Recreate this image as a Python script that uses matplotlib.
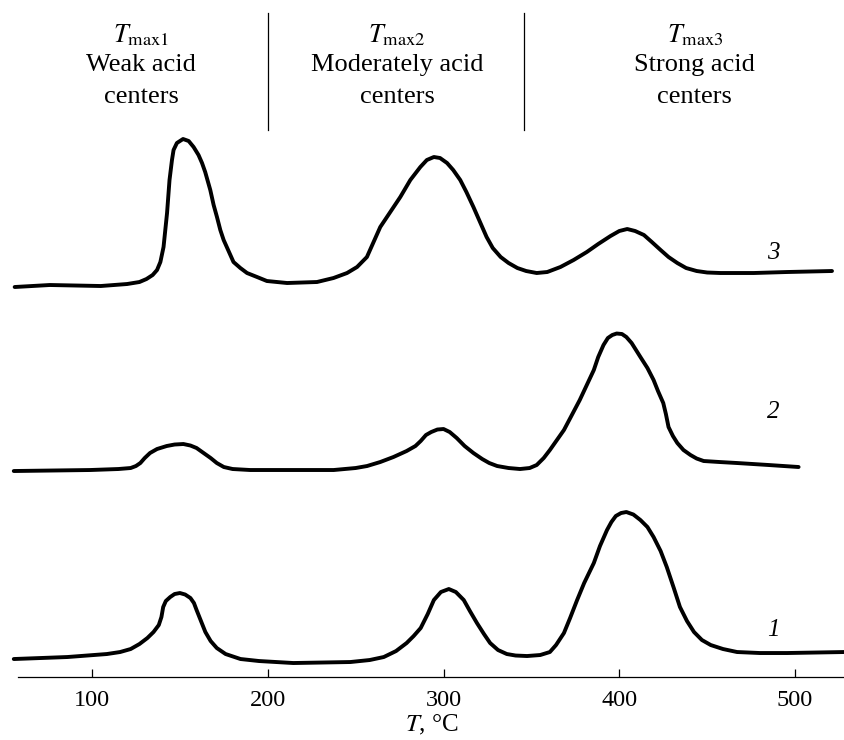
import matplotlib
matplotlib.use("Agg")
import matplotlib.pyplot as plt

plt.rcParams['font.family'] = ['Liberation Serif', 'DejaVu Serif']
plt.rcParams['mathtext.fontset'] = 'stix'

# TPD curves (signal in arbitrary units, already offset)
t3 = [56, 76, 105, 120, 127, 131, 134.5, 137, 138.9, 140.7, 142.7, 144.1, 145.5,
      146.4, 148.3, 151.8, 155, 157.8, 160.6, 162.6, 164.4, 167.3, 169.2, 171.1,
      173, 174.9, 177.7, 180.5, 184.4, 188.2, 193.9, 199.5, 211, 228, 237.4,
      245.1, 250.8, 256.4, 260.2, 264, 269.7, 275.4, 281.1, 286.8, 290.5, 294.5,
      298, 302, 305.5, 309.5, 313, 317, 321, 324.5, 328, 332.5, 337, 342, 347,
      353, 359, 366.5, 374, 381.5, 388, 395, 400, 404.5, 409, 414, 418.5, 423.5,
      428, 433, 438, 444, 450, 457.5, 476.5, 495.5, 521]
s3 = [39.0, 39.2, 39.1, 39.3, 39.5, 39.8, 40.2, 40.7, 41.5, 43.0, 46.4, 49.7, 51.7,
      52.7, 53.4, 53.8, 53.6, 53.0, 52.2, 51.4, 50.5, 48.7, 47.2, 46.0,
      44.7, 43.7, 42.6, 41.5, 40.9, 40.4, 40.0, 39.6, 39.4, 39.5, 39.9,
      40.4, 41.0, 42.0, 43.5, 45.0, 46.5, 48.0, 49.7, 51.0, 51.7, 52.0,
      51.9, 51.4, 50.7, 49.7, 48.5, 47.0, 45.4, 44.0, 42.9, 42.0, 41.4, 40.9, 40.6,
      40.4, 40.5, 41.0, 41.7, 42.5, 43.3, 44.1, 44.6, 44.8, 44.6, 44.2, 43.5, 42.7,
      42.0, 41.4, 40.9, 40.6, 40.45, 40.4, 40.4, 40.5, 40.6]

t2 = [55.5, 99, 115, 122, 125, 127.5, 130, 133, 137, 142.5, 147, 152, 156, 159.5,
      163.5, 167.5, 171, 175, 180, 190, 237.5, 250, 256.5, 264, 271.5, 279, 284,
      287, 290, 293, 296.5, 300, 303.5, 307.5, 312, 317, 322, 326, 330.5, 337,
      343.5, 349, 353, 357, 360.5, 364.5, 368.5, 373, 377.5, 381.5, 385.5, 388,
      391, 393.5, 396, 398.5, 401.5, 404, 407, 409.5, 412, 416, 419.5, 422, 425,
      426.5, 428, 430.5, 433, 436.5, 440.5, 444, 448, 457, 467, 485, 502]
s2 = [20.6, 20.7, 20.8, 20.9, 21.1, 21.4, 21.9, 22.4, 22.8, 23.1, 23.25, 23.3, 23.15, 22.9,
      22.4, 21.9, 21.4, 21.0, 20.8, 20.7, 20.7, 20.9, 21.1, 21.5, 22.0, 22.6, 23.1,
      23.6, 24.2, 24.5, 24.75, 24.8, 24.5, 23.9, 23.1, 22.4, 21.8, 21.4, 21.1, 20.9,
      20.8, 20.9, 21.2, 21.9, 22.7, 23.7, 24.7, 26.2, 27.7, 29.2, 30.7, 32.0,
      33.2, 33.9, 34.2, 34.35, 34.3, 34.0, 33.4, 32.7, 32.0, 30.9, 29.7, 28.6, 27.4,
      26.3, 25.0, 24.1, 23.4, 22.7, 22.2, 21.85, 21.6, 21.5, 21.4, 21.2, 21.0]

t1 = [55.5, 86, 108.5, 116, 122, 127, 131.5, 135, 138, 139.5, 140.5, 142, 144.5,
      147, 150, 153, 156, 158, 159.5, 162, 164.5, 167.5, 171, 176, 184.5, 195,
      214.5, 247, 258, 266, 273, 279, 283, 287, 291, 294.5, 298.5, 303, 307,
      311.5, 315, 319, 323, 326.5, 331, 336, 341, 347.5, 355, 360.5, 364, 368.5,
      372, 376, 380, 385.5, 389, 393, 395.5, 398, 401, 404, 408, 412, 416, 419.5,
      423.5, 427, 431, 434.5, 438.5, 442.5, 447, 452, 459, 467, 480, 495.5, 528]
s1 = [1.8, 2.0, 2.3, 2.5, 2.8, 3.3, 3.9, 4.5, 5.2, 6.0, 7.0, 7.6, 8.0,
      8.3, 8.4, 8.25, 7.9, 7.4, 6.7, 5.6, 4.5, 3.6, 2.9, 2.3, 1.8, 1.6,
      1.4, 1.5, 1.7, 2.0, 2.6, 3.4, 4.1, 4.9, 6.3, 7.7, 8.5, 8.8, 8.5,
      7.7, 6.6, 5.4, 4.3, 3.4, 2.7, 2.3, 2.15, 2.1, 2.2, 2.5, 3.2, 4.4,
      5.9, 7.7, 9.4, 11.4, 13.1, 14.7, 15.5, 16.1, 16.4, 16.5, 16.25, 15.7, 15.0, 14.0,
      12.6, 11.0, 8.9, 7.0, 5.6, 4.5, 3.7, 3.2, 2.8, 2.5, 2.4, 2.4, 2.5]

curves = [(t1, s1, '1', 4.7), (t2, s2, '2', 26.5), (t3, s3, '3', 42.4)]

xticks = [100, 200, 300, 400, 500]
borders = [200, 346]
header_x = [128, 273.5, 443]
header_tmax = [r'$T_{\mathrm{max1}}$', r'$T_{\mathrm{max2}}$', r'$T_{\mathrm{max3}}$']
header_l1 = ['Weak acid', 'Moderately acid', 'Strong acid']
header_l2 = ['centers', 'centers', 'centers']

fig = plt.figure(figsize=(8.45, 7.4), dpi=100)
ax = fig.add_axes([0.0213, 0.0851, 0.9787, 0.9149])

for t, s, name, ylab in curves:
    ax.plot(t, s, color='black', lw=2.8, solid_joinstyle='round',
            solid_capstyle='round', clip_on=False)
    ax.text(487.5, ylab, name, fontsize=18, style='italic',
            ha='center', va='center')

# section borders and headers
for b in borders:
    ax.plot([b, b], [54.7, 66.4], color='black', lw=0.9)
for x, a, b, c in zip(header_x, header_tmax, header_l1, header_l2):
    ax.text(x, 64.2, a, fontsize=19, ha='center', va='center')
    ax.text(x, 61.2, b, fontsize=19, ha='center', va='center')
    ax.text(x, 58.0, c, fontsize=19, ha='center', va='center')

ax.set_xlim(57.9, 528.4)
ax.set_ylim(0, 67.7)
for sp in ['top', 'left', 'right']:
    ax.spines[sp].set_visible(False)
ax.spines['bottom'].set_linewidth(0.9)
ax.set_yticks([])
ax.set_xticks(xticks)
ax.tick_params(axis='x', direction='in', length=6, width=0.9, pad=9,
               labelsize=17.5)
ax.set_xlabel(r'$T$, °C', fontsize=18, labelpad=2)

plt.savefig("out.png", dpi=100)
